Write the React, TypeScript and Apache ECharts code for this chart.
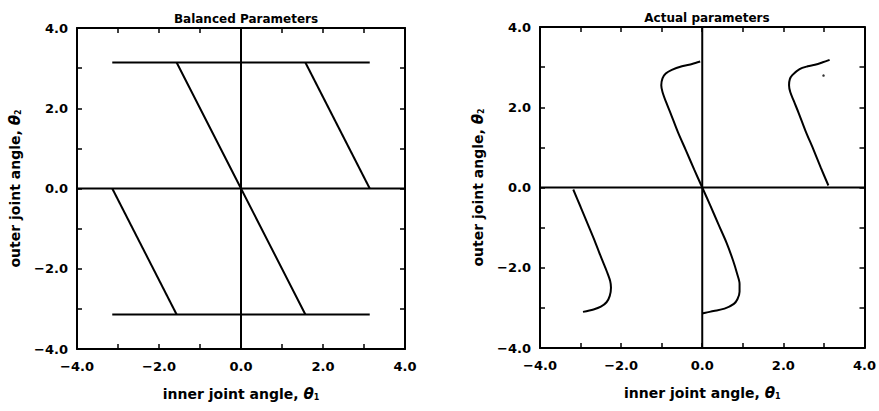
import React, { useEffect, useRef } from "react";
import * as echarts from "echarts";

// Axis ticks / labels
const axisMin = -4;
const axisMax = 4;
const majorStep = 2;

const titles = ["Balanced Parameters", "Actual parameters"];
const xName = "inner joint angle, ";
const yName = "outer joint angle, ";

// Reference (zero) lines, shared by both panels
const zeroH: number[][] = [[-4, 0], [4, 0]];
const zeroV: number[][] = [[0, -4], [0, 4]];

// Balanced parameters panel
const balTop: number[][] = [[-3.14, 3.14], [3.14, 3.14]];
const balBottom: number[][] = [[-3.14, -3.14], [3.14, -3.14]];
const balCenter: number[][] = [[-1.57, 3.14], [0, 0], [1.57, -3.14]];
const balRight: number[][] = [[1.57, 3.14], [3.14, 0]];
const balLeft: number[][] = [[-3.14, 0], [-1.57, -3.14]];

// Actual parameters panel
const actUpperX = [0, -0.2, -0.4, -0.6, -0.78, -0.9, -0.98, -1.01, -0.98, -0.9, -0.75, -0.5, -0.25, -0.05];
const actUpperY = [0, 0.45, 0.92, 1.38, 1.85, 2.15, 2.38, 2.55, 2.72, 2.84, 2.93, 3.02, 3.08, 3.14];
const actLowerX = [0, 0.2, 0.4, 0.6, 0.76, 0.86, 0.92, 0.92, 0.87, 0.78, 0.55, 0.28, 0.08, 0];
const actLowerY = [0, -0.45, -0.92, -1.38, -1.82, -2.15, -2.4, -2.6, -2.78, -2.9, -3.02, -3.08, -3.12, -3.14];
const actRightX = [3.11, 2.92, 2.74, 2.55, 2.38, 2.26, 2.17, 2.14, 2.16, 2.22, 2.4, 2.6, 2.78, 2.97, 3.14];
const actRightY = [0.05, 0.5, 0.95, 1.4, 1.85, 2.15, 2.38, 2.55, 2.7, 2.8, 2.95, 3.02, 3.06, 3.12, 3.18];
const actLeftX = [-3.18, -3.0, -2.82, -2.64, -2.47, -2.35, -2.27, -2.25, -2.28, -2.36, -2.5, -2.68, -2.94];
const actLeftY = [-0.05, -0.48, -0.92, -1.36, -1.8, -2.1, -2.33, -2.5, -2.7, -2.86, -2.97, -3.04, -3.1];
const actSpeck: number[][] = [[2.99, 2.79]];

const zip = (xs: number[], ys: number[]) => xs.map((x, i) => [x, ys[i]]);

const FONT = "DejaVu Sans";

const fmt = (v: number) => (v < 0 ? "\u2212" : "") + Math.abs(v).toFixed(1);

export default function App() {
  const ref = useRef<HTMLDivElement>(null);
  useEffect(() => {
    if (!ref.current) return;
    const chart = echarts.init(ref.current, null, { renderer: "svg" });

    const grids = [
      { left: 77, top: 28, width: 328, height: 321 },
      { left: 540, top: 27, width: 328, height: 321 },
    ];

    const lineStyleAxis = { color: "#000", width: 2 };
    const baseAxis = {
      type: "value" as const,
      min: axisMin,
      max: axisMax,
      interval: majorStep,
      splitLine: { show: false },
      axisLine: { show: true, onZero: false, lineStyle: lineStyleAxis },
      axisTick: { show: true, inside: true, length: 5, lineStyle: { color: "#000", width: 1.5 } },
      minorTick: { show: true, splitNumber: 2, length: 5, lineStyle: { color: "#000", width: 1.5 } },
    };

    const richName = (text: string, sub: string) =>
      `{a|${text}}{b|\u03B8}{s|${sub}}`;
    const nameRich = {
      a: { fontFamily: FONT, fontWeight: "bold", fontSize: 14, color: "#000" },
      b: { fontFamily: FONT, fontWeight: "bold", fontStyle: "italic", fontSize: 15, color: "#000" },
      s: { fontFamily: FONT, fontWeight: "bold", fontSize: 8, color: "#000", padding: [7, 0, 0, 0] },
    };

    const labelStyle = {
      formatter: fmt,
      fontFamily: FONT,
      fontWeight: "bold",
      fontSize: 13,
      color: "#000",
    };

    const xAxes: any[] = [];
    const yAxes: any[] = [];
    for (let g = 0; g < 2; g++) {
      xAxes.push({
        ...baseAxis,
        gridIndex: g,
        position: "bottom",
        name: richName(xName, "1"),
        nameLocation: "middle",
        nameGap: 37,
        nameTextStyle: { rich: nameRich },
        axisLabel: { ...labelStyle, margin: 11 },
      });
      xAxes.push({ ...baseAxis, gridIndex: g, position: "top", axisLabel: { show: false } });
      yAxes.push({
        ...baseAxis,
        gridIndex: g,
        position: "left",
        name: richName(yName, "2"),
        nameLocation: "middle",
        nameGap: 55,
        nameTextStyle: { rich: nameRich },
        axisLabel: { ...labelStyle, margin: 9 },
      });
      yAxes.push({ ...baseAxis, gridIndex: g, position: "right", axisLabel: { show: false } });
    }

    const line = (data: number[][], g: number, smooth = false) => ({
      type: "line",
      xAxisIndex: g * 2,
      yAxisIndex: g * 2,
      data,
      smooth: smooth ? 0.3 : false,
      showSymbol: false,
      symbol: "none",
      lineStyle: { color: "#000", width: 2 },
      silent: true,
    });

    const series: any[] = [
      line(zeroH, 0),
      line(zeroV, 0),
      line(balTop, 0),
      line(balBottom, 0),
      line(balCenter, 0),
      line(balRight, 0),
      line(balLeft, 0),
      line(zeroH, 1),
      line(zeroV, 1),
      line(zip(actUpperX, actUpperY), 1, true),
      line(zip(actLowerX, actLowerY), 1, true),
      line(zip(actRightX, actRightY), 1, true),
      line(zip(actLeftX, actLeftY), 1, true),
      {
        type: "scatter",
        xAxisIndex: 2,
        yAxisIndex: 2,
        data: actSpeck,
        symbolSize: 2.5,
        itemStyle: { color: "#000" },
        silent: true,
      },
    ];

    const titleStyle = { fontFamily: FONT, fontWeight: "bold", fontSize: 12, color: "#000" };

    chart.setOption({
      animation: false,
      backgroundColor: "#fff",
      title: [
        { text: titles[0], left: 241, top: 8, textAlign: "center", textStyle: titleStyle },
        { text: titles[1], left: 702, top: 7, textAlign: "center", textStyle: titleStyle },
      ],
      grid: grids,
      xAxis: xAxes,
      yAxis: yAxes,
      series,
    });
    return () => chart.dispose();
  }, []);

  return (
    <div
      ref={ref}
      style={{ position: "absolute", left: 0, top: 0, width: 879, height: 411 }}
    />
  );
}
